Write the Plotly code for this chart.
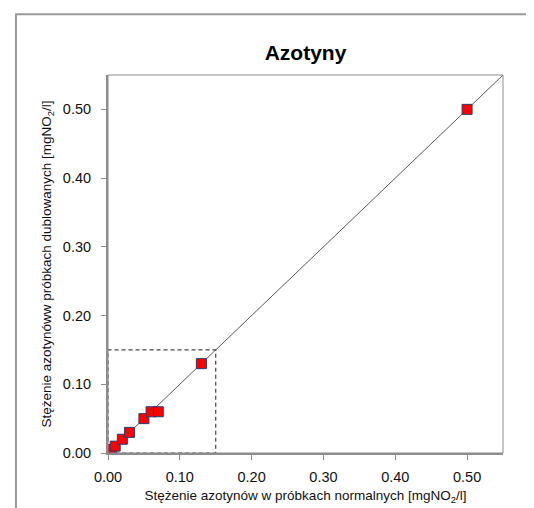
import plotly.graph_objects as go

# data
normal = [0.005, 0.01, 0.02, 0.03, 0.05, 0.06, 0.07, 0.13, 0.50]
duplicate = [0.005, 0.01, 0.02, 0.03, 0.05, 0.06, 0.06, 0.13, 0.50]
diag = [0.0, 0.55]
zoom_box = [0.0, 0.15]
tick_vals = [0.0, 0.1, 0.2, 0.3, 0.4, 0.5]
tick_text = ["0.00", "0.10", "0.20", "0.30", "0.40", "0.50"]

sans = "Liberation Sans, Arial"

fig = go.Figure()

# 1:1 line
fig.add_trace(go.Scatter(x=diag, y=diag, mode="lines",
                         line=dict(color="#5a5a5a", width=1), hoverinfo="skip"))

# dashed box round the low values
fig.add_trace(go.Scatter(
    x=[zoom_box[0], zoom_box[1], zoom_box[1], zoom_box[0], zoom_box[0]],
    y=[zoom_box[0], zoom_box[0], zoom_box[1], zoom_box[1], zoom_box[0]],
    mode="lines", line=dict(color="#444444", width=1.2, dash="4px,3px"),
    hoverinfo="skip"))

fig.add_trace(go.Scatter(x=normal, y=duplicate, mode="markers",
                         marker=dict(symbol="square", size=10, color="#ff0000",
                                     line=dict(color="#2e3a6e", width=1))))

# thin frame round the plot area
fig.add_shape(type="rect", xref="paper", yref="paper", x0=0, y0=0, x1=1, y1=1,
              line=dict(color="#8c8c8c", width=1), layer="above")
# outer chart border (cut by the picture edges)
fig.add_shape(type="rect", xref="paper", yref="paper",
              x0=-0.233, y0=-0.3, x1=1.3, y1=1.161,
              line=dict(color="#9a9a9a", width=2), layer="below")

axis_font = dict(family=sans, size=14.5, color="#111111")

fig.update_layout(
    width=534, height=508,
    margin=dict(l=100, r=39, t=67, b=63),
    paper_bgcolor="white", plot_bgcolor="white",
    showlegend=False,
    font=dict(family=sans, color="#111111"),
    title=dict(text="<b>Azotyny</b>", x=297.5 / 534, xanchor="center",
               y=1 - 45 / 508, yanchor="middle",
               font=dict(family=sans, size=21, color="#000000")),
    xaxis=dict(range=[0, 0.55], tickvals=tick_vals, ticktext=tick_text,
               showgrid=False, zeroline=False, showline=True, linecolor="#8c8c8c",
               linewidth=2, ticks="outside", ticklen=5, tickcolor="#8c8c8c",
               tickfont=axis_font, ticklabelstandoff=5,
               title=dict(text="Stężenie azotynów w próbkach normalnych [mgNO<sub>2</sub>/l]",
                          font=dict(family=sans, size=13.5), standoff=6)),
    yaxis=dict(range=[0, 0.55], tickvals=tick_vals, ticktext=tick_text,
               showgrid=False, zeroline=False, showline=True, linecolor="#8c8c8c",
               linewidth=2, ticks="outside", ticklen=5, tickcolor="#8c8c8c",
               tickfont=axis_font, ticklabelstandoff=7,
               title=dict(text="Stężenie azotynóww próbkach dublowanych [mgNO<sub>2</sub>/l]",
                          font=dict(family=sans, size=13.5), standoff=8)),
)

fig.write_html("out.html")
